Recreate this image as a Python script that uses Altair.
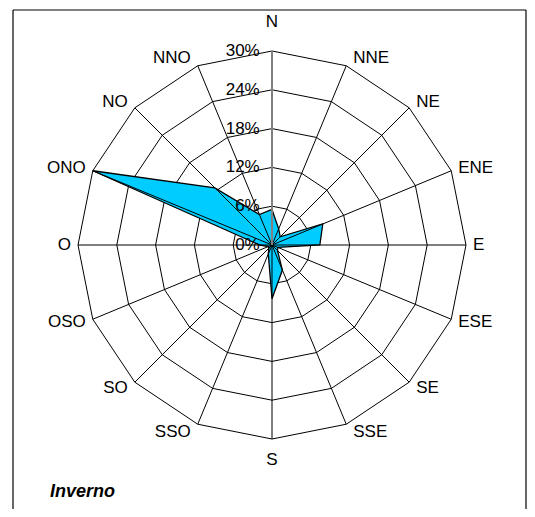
import altair as alt
import pandas as pd
import numpy as np

# ---- data ----
directions = ["N", "NNE", "NE", "ENE", "E", "ESE", "SE", "SSE",
              "S", "SSO", "SO", "OSO", "O", "ONO", "NO", "NNO"]
values = [5.5, 2.7, 1.8, 8.5, 7.4, 1.0, 1.2, 4.2,
          8.3, 1.5, 0.7, 0.6, 1.9, 30.0, 12.5, 5.1]
ring_levels = [6, 12, 18, 24, 30]
tick_values = [0, 6, 12, 18, 24, 30]
tick_labels = ["0%", "6%", "12%", "18%", "24%", "30%"]
season = "Inverno"

# ---- geometry helpers ----
n = len(directions)
ang = np.deg2rad(np.arange(n) * 360.0 / n)
rmax = max(ring_levels)

W, H = 513, 499
PX = 194.0 / rmax          # pixels per percent
cx, cy = 259.0, 235.0      # centre in view pixels
xdom = [-cx / PX, (W - cx) / PX]
ydom = [-(H - cy) / PX, cy / PX]
XS = alt.Scale(domain=xdom, nice=False, zero=False)
YS = alt.Scale(domain=ydom, nice=False, zero=False)

def X(f):
    return alt.X(f, type="quantitative", scale=XS, axis=None)

def Y(f):
    return alt.Y(f, type="quantitative", scale=YS, axis=None)

series = pd.DataFrame({
    "dir": directions,
    "v": values,
    "x": np.array(values) * np.sin(ang),
    "y": np.array(values) * np.cos(ang),
    "order": np.arange(n),
})

rings = pd.DataFrame([
    {"level": lv, "order": i, "x": lv * np.sin(a), "y": lv * np.cos(a)}
    for lv in ring_levels for i, a in enumerate(ang)
])

spokes = pd.DataFrame({
    "dir": directions,
    "x0": 0.0, "y0": 0.0,
    "x1": rmax * np.sin(ang),
    "y1": rmax * np.cos(ang),
})

ticks = pd.DataFrame({"v": tick_values, "label": tick_labels, "x": -1.9})

# category labels sit just outside the outer ring vertex (Excel-like placement)
s = np.sin(ang)
c = np.cos(ang)
side = np.where(s > 0.01, 1, np.where(s < -0.01, -1, 0))
labels = pd.DataFrame({
    "dir": directions,
    "side": side,
    "x": rmax * s + (7.0 / PX) * side,
    "y": rmax * c + (8.0 / PX) * c,
})

base_font = "Liberation Sans"
FS = 17

ring_layer = alt.Chart(rings).mark_line(
    interpolate="linear-closed", color="black", strokeWidth=1
).encode(x=X("x"), y=Y("y"), order="order:Q", detail="level:N")

fill_layer = alt.Chart(series).mark_line(
    interpolate="linear-closed", fill="#00CCFF", stroke="black", strokeWidth=1.3
).encode(x=X("x"), y=Y("y"), order="order:Q")

spoke_layer = alt.Chart(spokes[spokes["dir"] != "N"]).mark_rule(
    color="black", strokeWidth=1
).encode(x=X("x0"), y=Y("y0"), x2="x1", y2="y1")

axis_layer = alt.Chart(spokes[spokes["dir"] == "N"]).mark_rule(
    color="#808080", strokeWidth=2
).encode(x=X("x0"), y=Y("y0"), x2="x1", y2="y1")

tick_layer = alt.Chart(ticks).mark_text(
    align="right", baseline="middle", font=base_font, fontSize=FS, color="black"
).encode(x=X("x"), y=Y("v"), text="label:N")

txt = dict(baseline="middle", font=base_font, fontSize=FS, color="black")
right_layer = alt.Chart(labels[labels["side"] == 1]).mark_text(align="left", **txt).encode(
    x=X("x"), y=Y("y"), text="dir:N")
left_layer = alt.Chart(labels[labels["side"] == -1]).mark_text(align="right", **txt).encode(
    x=X("x"), y=Y("y"), text="dir:N")
north_layer = alt.Chart(labels[labels["dir"] == "N"]).mark_text(align="center", dy=-21, **txt).encode(
    x=X("x"), y=Y("y"), text="dir:N")
south_layer = alt.Chart(labels[labels["dir"] == "S"]).mark_text(align="center", dy=13, **txt).encode(
    x=X("x"), y=Y("y"), text="dir:N")

title_layer = alt.Chart(pd.DataFrame({"t": [season]})).mark_text(
    align="left", baseline="middle", font=base_font, fontSize=18,
    fontWeight="bold", fontStyle="italic", color="black"
).encode(x=alt.value(37), y=alt.value(482), text="t:N")

# three-sided frame (bottom edge lies below the visible area in the reference)
one = pd.DataFrame({"k": [0]})
frame_left = alt.Chart(one).mark_rule(color="black", strokeWidth=1.2).encode(
    x=alt.value(0), y=alt.value(0), y2=alt.value(H))
frame_right = alt.Chart(one).mark_rule(color="black", strokeWidth=1.2).encode(
    x=alt.value(W), y=alt.value(0), y2=alt.value(H))
frame_top = alt.Chart(one).mark_rule(color="black", strokeWidth=1.2).encode(
    x=alt.value(0), x2=alt.value(W), y=alt.value(0))

chart = alt.layer(
    ring_layer, fill_layer, spoke_layer, axis_layer,
    tick_layer, right_layer, left_layer, north_layer, south_layer, title_layer,
    frame_left, frame_right, frame_top
).properties(
    width=W, height=H,
    autosize=alt.AutoSizeParams(type="none"),
    padding={"left": 5, "top": 2, "right": 1, "bottom": 0},
).configure_view(stroke=None)

chart.save("out.html", embed_options={"renderer": "svg", "actions": False})
